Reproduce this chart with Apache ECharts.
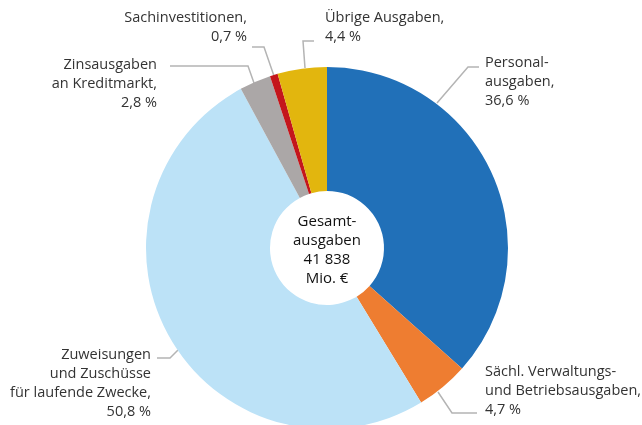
<!DOCTYPE html>
<html>
<head>
<meta charset="utf-8">
<script src="https://cdn.jsdelivr.net/npm/echarts@6/dist/echarts.min.js"></script>
<style>
  html, body { margin: 0; padding: 0; background: #fff; }
  #chart { width: 642px; height: 425px; }
</style>
</head>
<body>
<div id="chart"></div>
<script>
// Ausgabenstruktur: Anteile an den Gesamtausgaben in Prozent
const categories = [
  'Personal-\nausgaben',
  'Sächl. Verwaltungs-\nund Betriebsausgaben',
  'Zuweisungen\nund Zuschüsse\nfür laufende Zwecke',
  'Zinsausgaben\nan Kreditmarkt',
  'Sachinvestitionen',
  'Übrige Ausgaben'
];
const shares = [36.6, 4.7, 50.8, 2.8, 0.7, 4.4];
const colors = ['#2170b8', '#ee7d31', '#bce2f7', '#aba7a7', '#c4161c', '#e2b60e'];
const centerLines = ['Gesamt-', 'ausgaben', '41 838', 'Mio. €'];

// Label placement: text anchor, alignment and guide line route
const labelPlacement = [
  { x: 485, y: 53,  align: 'left',  line: [[437, 103], [468, 67], [479, 67]] },
  { x: 485, y: 362, align: 'left',  line: [[438, 392], [452, 413], [477, 413]] },
  { x: 151, y: 345, align: 'right', line: [[178, 350], [170, 358], [157, 358]] },
  { x: 157, y: 55,  align: 'right', line: [[254, 83], [248, 66], [170, 66]] },
  { x: 247, y: 8,   align: 'right', line: [[274, 76], [264, 47], [252, 47]] },
  { x: 325, y: 8,   align: 'left',  line: [[305, 68], [303, 41], [314, 41]] }
];

const fmt = v => v.toFixed(1).replace('.', ',') + ' %';

const chart = echarts.init(document.getElementById('chart'), null, { renderer: 'canvas' });
chart.setOption({
  animation: false,
  color: colors,
  textStyle: { fontFamily: 'Open Sans, sans-serif' },
  series: [{
    type: 'pie',
    center: [327, 248],
    radius: [57, 181],
    startAngle: 90,
    clockwise: true,
    avoidLabelOverlap: false,
    itemStyle: { borderWidth: 0 },
    label: {
      show: true,
      color: '#333',
      fontSize: 14.5,
      lineHeight: 19,
      fontFamily: 'Open Sans, sans-serif',
      formatter: p => p.name + ',\n' + fmt(p.value)
    },
    labelLine: {
      show: true,
      lineStyle: { color: '#b4b4b4', width: 1.5 }
    },
    labelLayout: p => {
      const lp = labelPlacement[p.dataIndex];
      return {
        x: lp.x,
        y: lp.y,
        align: lp.align,
        verticalAlign: 'top',
        labelLinePoints: lp.line
      };
    },
    data: categories.map((c, i) => ({ name: c, value: shares[i] }))
  }],
  graphic: [{
    type: 'text',
    style: {
      x: 327,
      y: 250,
      text: centerLines.join('\n'),
      textAlign: 'center',
      textVerticalAlign: 'middle',
      fill: '#111',
      font: '500 15px "Open Sans", sans-serif',
      lineHeight: 19
    }
  }]
});
</script>
</body>
</html>
